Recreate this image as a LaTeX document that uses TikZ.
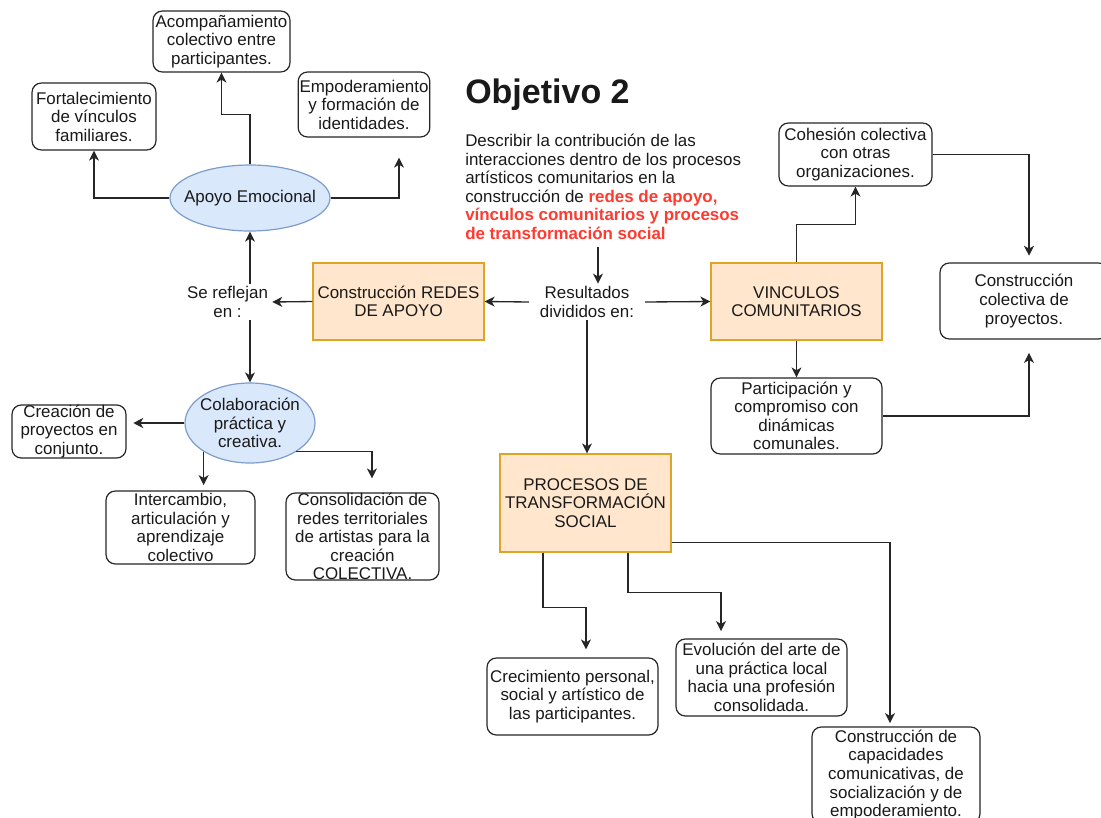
\documentclass[tikz,border=0pt]{standalone}
\usepackage{fontspec}
\setmainfont{Liberation Sans}
\usetikzlibrary{shapes.geometric,arrows.meta}
\definecolor{naranja}{HTML}{FFE6CC}
\definecolor{naranjaborde}{HTML}{DDA425}
\definecolor{azul}{HTML}{DAE8FC}
\definecolor{azulborde}{HTML}{7C9CCB}
\definecolor{rojo}{HTML}{FF3B30}
\definecolor{linea}{HTML}{262626}

\begin{document}
\begin{tikzpicture}[x=0.75pt,y=-0.75pt,
  every node/.style={font=\fontsize{12.7}{13.9}\selectfont,text=black!90},
  caja/.style={draw=linea,line width=0.9pt,rounded corners=7pt,fill=white,align=center,inner xsep=1pt,inner ysep=0pt},
  tema/.style={draw=naranjaborde,fill=naranja,line width=0.9pt,align=center,inner sep=1pt,minimum width=128.25pt},
  elipse/.style={ellipse,draw=azulborde,fill=azul,line width=0.9pt,inner sep=0pt},
  etiq/.style={align=center,inner sep=0pt},
  flecha/.style={draw=linea,line width=1pt,-{Stealth[length=7.5pt,width=7.5pt,inset=2.2pt]}}]
  \clip (0,0) rectangle (1101,818);

  % titulo y objetivo
  \node[anchor=base west,inner sep=0pt,font=\fontsize{25.5}{30}\selectfont\bfseries] (titulo) at (465,103) {Objetivo 2};
  \node[anchor=north west,align=left,inner sep=0pt] (descr) at (465,134)
    {Describir la contribución de las\\interacciones dentro de los procesos\\artísticos comunitarios en la\\construcción de \textcolor{rojo}{\bfseries redes de apoyo,}\\\textcolor{rojo}{\bfseries vínculos comunitarios y procesos}\\\textcolor{rojo}{\bfseries de transformación social}};
  \node[align=center,inner xsep=8pt,inner ysep=2pt] (result) at (587,302) {Resultados\\divididos en:};

  % redes de apoyo
  \node[tema,minimum height=57.75pt] (redes) at (398.5,301.5) {Construcción REDES\\DE APOYO};
  \node[align=center,inner xsep=3pt,inner ysep=2pt] (sref) at (227.5,302) {Se reflejan\\en :};
  \node[elipse,minimum width=120pt,minimum height=49.5pt,label={[etiq]center:Apoyo Emocional}] (apoyo) at (250,198) {};
  \node[caja,minimum width=102.75pt,minimum height=45.75pt] (acomp) at (221.5,41.5) {Acompañamiento\\colectivo entre\\participantes.};
  \node[caja,minimum width=93pt,minimum height=50.25pt] (fortal) at (94,116.5) {Fortalecimiento\\de vínculos\\familiares.};
  \node[caja,minimum width=97.5pt,minimum height=48.75pt] (empod) at (364,104.5) {Empoderamiento\\y formación de\\identidades.};
  \node[elipse,minimum width=97.5pt,minimum height=60pt,label={[etiq]center:{Colaboración\\práctica y\\creativa.}}] (colab) at (250,423) {};
  \node[caja,minimum width=85.5pt,minimum height=38.25pt] (creac) at (69,431.5) {Creación de\\proyectos en\\conjunto.};
  \node[caja,minimum width=111.75pt,minimum height=54.75pt] (interc) at (180.5,527.5) {Intercambio,\\articulación y\\aprendizaje\\colectivo};
  \node[caja,minimum width=114.75pt,minimum height=65.25pt] (consol) at (362.5,536.5) {Consolidación de\\redes territoriales\\de artistas para la\\creación\\COLECTIVA.};

  % vinculos comunitarios
  \node[tema,minimum height=57.75pt] (vinc) at (796.5,301.5) {VINCULOS\\COMUNITARIOS};
  \node[caja,minimum width=114.75pt,minimum height=47.25pt] (cohes) at (855.5,154.5) {Cohesión colectiva\\con otras\\organizaciones.};
  \node[caja,minimum width=126pt,minimum height=57pt] (constcol) at (1024,301) {Construcción\\colectiva de\\proyectos.};
  \node[caja,minimum width=128.25pt,minimum height=57pt] (partic) at (796.5,416) {Participación y\\compromiso con\\dinámicas\\comunales.};

  % procesos de transformacion
  \node[tema,minimum height=73.5pt] (proc) at (585.5,503) {PROCESOS DE\\TRANSFORMACIÓN\\SOCIAL};
  \node[caja,minimum width=128.25pt,minimum height=57.75pt] (crec) at (572.5,696.5) {Crecimiento personal,\\social y artístico de\\las participantes.};
  \node[caja,minimum width=128.25pt,minimum height=57.75pt] (evol) at (761.5,677.5) {Evolución del arte de\\una práctica local\\hacia una profesión\\consolidada.};
  \node[caja,minimum width=126pt,minimum height=72pt] (capac) at (896,775) {Construcción de\\capacidades\\comunicativas, de\\socialización y de\\empoderamiento.};

  \coordinate (rtip) at ([xshift=8.25pt]result.north);
  \draw[flecha,shorten <=5pt] (descr.south -| rtip) -- (rtip);
  \draw[flecha] (result.west) -- (redes.east);
  \draw[flecha] (result.east) -- (vinc.west);
  \draw[flecha] (result.south) -- (result.south |- proc.north);

  \draw[flecha] (redes.west) -- (sref.east);
  \draw[flecha] (sref.north -| apoyo.south) -- (apoyo.south);
  \draw[flecha] (sref.south -| colab.north) -- (colab.north);
  \draw[flecha] (apoyo.west) -| (fortal.south);
  \draw[flecha] (apoyo.north) -- ++(0,-50) -| (acomp.south);
  \draw[flecha] (apoyo.east) -| ([xshift=26.25pt,yshift=-15pt]empod.south);
  \draw[flecha,shorten >=5pt] (colab.west) -- (colab.west -| creac.east);
  \draw[flecha,shorten >=4pt] (colab.south west) -- (colab.south west |- interc.north);
  \draw[flecha,shorten >=10.5pt] (colab.south east) -| ([xshift=7.1pt]consol.north);

  \draw[flecha] (vinc.north) -- ++(0,-38) -| (cohes.south);
  \draw[flecha] (cohes.east) -| ([xshift=3.75pt,yshift=5pt]constcol.north);
  \draw[flecha] (vinc.south) -- (partic.north);
  \draw[flecha] (partic.east) -| ([xshift=3.75pt,yshift=-10pt]constcol.south);

  \draw[flecha,shorten >=6pt] ([xshift=-31.9pt]proc.south) -- ++(0,55) -| ([xshift=10.1pt]crec.north);
  \draw[flecha,shorten >=5.5pt] ([xshift=31.9pt]proc.south) -- ++(0,40) -| ([xshift=-30.4pt]evol.north);
  \draw[flecha,shorten >=2.5pt] ([yshift=7.5pt]proc.south east) -| ([xshift=-4.5pt]capac.north);
\end{tikzpicture}
\end{document}
